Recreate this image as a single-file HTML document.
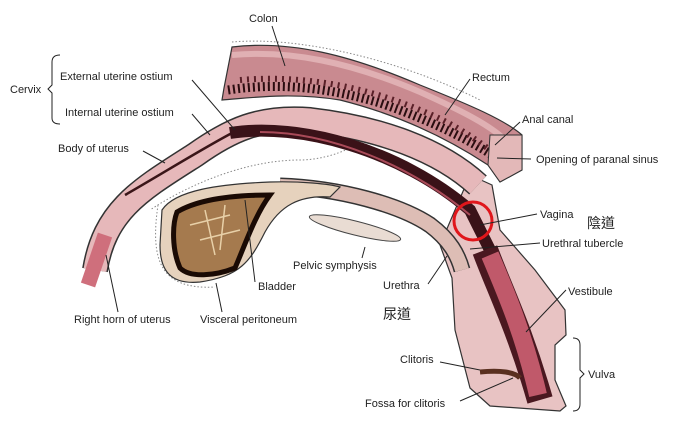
<!DOCTYPE html>
<html><head><meta charset="utf-8"><style>
html,body{margin:0;padding:0;background:#fff;}
svg{display:block}
text{font-family:"Liberation Sans",Arial,sans-serif;font-size:11px;fill:#222}
.cjk{font-family:"Liberation Sans","Noto Sans CJK TC",sans-serif;font-size:14px;fill:#222}
.l{stroke:#222;stroke-width:1;fill:none}
</style></head><body>
<svg width="683" height="438" viewBox="0 0 683 438">
<path d="M232,42 C300,36 400,60 480,100" fill="none" stroke="#888" stroke-width="1" stroke-dasharray="1.5,2"/>
<path d="M150,180 C200,150 260,110 330,120 S340,160 300,160 C240,160 180,190 150,210" fill="none" stroke="#888" stroke-dasharray="1.5,2"/>
<path d="M158,205 C150,260 160,290 215,287" fill="none" stroke="#888" stroke-dasharray="1.5,2"/>
<!-- rectum -->
<path d="M232,47 C290,40 350,55 420,85 C470,105 505,120 522,135 L522,170 L500,182 L488,165 C450,140 400,115 340,100 C290,92 250,98 222,100 L224,88 Z" fill="#c98a90" stroke="#333" stroke-width="1.2"/>
<path d="M232,55 C290,50 350,62 420,92 C460,110 490,125 505,140" fill="none" stroke="#e0b0b3" stroke-width="6"/>
<path d="M228,90 C280,82 330,88 380,103 C430,120 470,140 500,160" fill="none" stroke="#2a0d10" stroke-width="9" stroke-dasharray="2,3"/>
<path d="M240,80 C300,75 360,85 420,110 C450,122 470,135 490,150" fill="none" stroke="#5a2028" stroke-width="6" stroke-dasharray="2,5"/>
<path d="M490,135 L522,135 L522,170 L500,182 L488,165 Z" fill="#e3b8b8" stroke="#333"/>
<!-- perineum -->
<path d="M470,175 L492,185 L500,230 L535,270 L565,310 L566,335 L555,345 L555,380 L566,406 L560,411 L490,406 L470,388 L455,330 L452,278 L440,245 Z" fill="#e8c3c3" stroke="#333" stroke-width="1.2"/>
<!-- uterus band -->
<path d="M95,270 C105,210 140,190 195,155 C230,130 260,116 310,120 C380,128 440,150 478,185" fill="none" stroke="#333" stroke-width="26"/>
<path d="M95,270 C105,210 140,190 195,155 C230,130 260,116 310,120 C380,128 440,150 478,185" fill="none" stroke="#e6b8ba" stroke-width="23"/>
<path d="M125,195 C160,175 200,150 232,133" fill="none" stroke="#3a1518" stroke-width="2.5"/>
<path d="M230,133 C300,122 400,150 470,210 L495,260" fill="none" stroke="#3a1218" stroke-width="12"/>
<path d="M260,132 C330,132 410,165 470,215" fill="none" stroke="#a84a58" stroke-width="2"/>
<path d="M105,235 L88,285" fill="none" stroke="#cf6f7c" stroke-width="15"/>
<!-- lower band -->
<path d="M280,186 C340,188 400,205 430,225 C450,240 458,255 462,270" fill="none" stroke="#333" stroke-width="17"/>
<path d="M280,186 C340,188 400,205 430,225 C450,240 458,255 462,270" fill="none" stroke="#ddbdb5" stroke-width="14"/>
<!-- vestibule lumen -->
<path d="M485,250 C500,290 520,330 540,400" fill="none" stroke="#4a1820" stroke-width="26"/>
<path d="M490,255 C507,295 524,335 538,395" fill="none" stroke="#c0596a" stroke-width="18"/>
<path d="M480,372 C500,370 515,372 520,378" fill="none" stroke="#5a3020" stroke-width="5"/>
<!-- bladder -->
<path d="M162,210 C175,190 220,184 270,182 C300,181 330,184 340,187 L330,197 C300,195 280,205 265,232 C250,262 240,276 200,282 C170,285 160,270 160,245 Z" fill="#e6d2bd" stroke="#333" stroke-width="1.2"/>
<path d="M177,212 C200,198 240,195 270,195 C255,215 245,245 235,268 C215,276 190,278 180,268 C172,250 172,225 177,212 Z" fill="#a57a4e" stroke="#1a0a04" stroke-width="5"/>
<path d="M190,225 L230,215 M200,240 L240,230 M205,210 L215,255 M225,205 L220,250" stroke="#e8d0a8" stroke-width="1.5"/>
<ellipse cx="355" cy="228" rx="47" ry="7" transform="rotate(14 355 228)" fill="#e9dcd3" stroke="#444"/>
<circle cx="473" cy="221" r="19" fill="none" stroke="#e0161b" stroke-width="3"/>
<text x="249" y="22">Colon</text><path class="l" d="M272,26 L285,66"/>
<text x="10" y="93">Cervix</text>
<path class="l" d="M60,55 Q52,55 52,62 L52,85 L48,89 L52,93 L52,118 Q52,124 60,124"/>
<text x="60" y="80">External uterine ostium</text><path class="l" d="M192,80 L235,130"/>
<text x="65" y="116">Internal uterine ostium</text><path class="l" d="M192,114 L210,135"/>
<text x="58" y="152">Body of uterus</text><path class="l" d="M143,151 L165,163"/>
<text x="472" y="81">Rectum</text><path class="l" d="M470,79 L445,115"/>
<text x="522" y="123">Anal canal</text><path class="l" d="M520,122 L495,145"/>
<text x="536" y="163">Opening of paranal sinus</text><path class="l" d="M531,159 L497,158"/>
<text x="540" y="218">Vagina</text><path class="l" d="M537,214 L480,225"/>
<text x="587" y="228" class="cjk">陰道</text>
<text x="542" y="247">Urethral tubercle</text><path class="l" d="M540,243 L470,249"/>
<text x="293" y="269">Pelvic symphysis</text><path class="l" d="M365,247 L362,258"/>
<text x="383" y="289">Urethra</text><path class="l" d="M428,284 L447,256"/>
<text x="383" y="319" class="cjk">尿道</text>
<text x="258" y="290">Bladder</text><path class="l" d="M255,282 L245,200"/>
<text x="74" y="323">Right horn of uterus</text><path class="l" d="M118,312 L106,255"/>
<text x="200" y="323">Visceral peritoneum</text><path class="l" d="M222,312 L216,283"/>
<text x="568" y="295">Vestibule</text><path class="l" d="M566,290 L526,332"/>
<text x="588" y="378">Vulva</text>
<path class="l" d="M573,338 Q580,338 580,345 L580,370 L584,374 L580,378 L580,404 Q580,411 573,411"/>
<text x="400" y="363">Clitoris</text><path class="l" d="M440,362 L480,370"/>
<text x="365" y="407">Fossa for clitoris</text><path class="l" d="M460,401 L513,378"/>
</svg>
</body></html>
